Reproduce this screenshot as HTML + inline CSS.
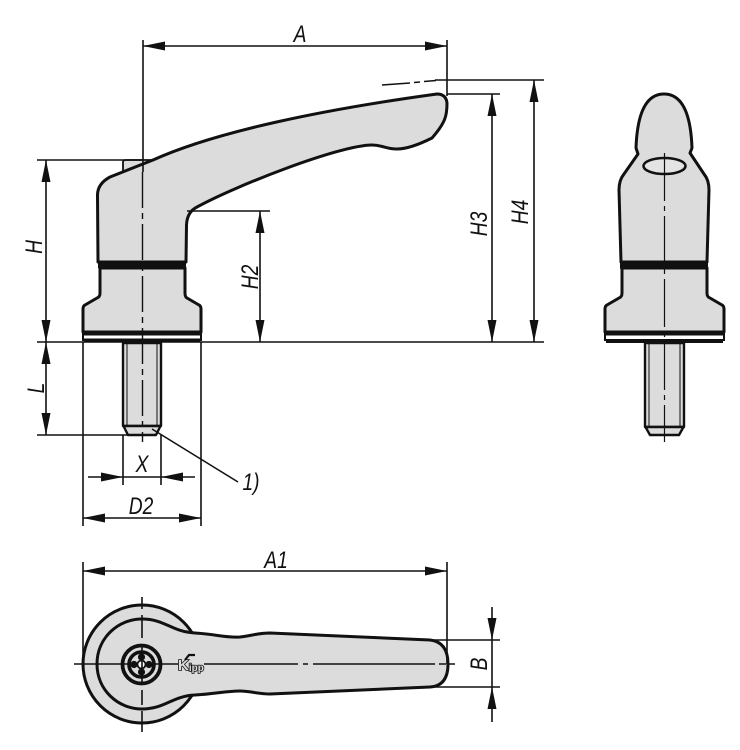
<!DOCTYPE html>
<html><head><meta charset="utf-8"><style>
html,body{margin:0;padding:0;background:#fff}
svg{display:block}
text{font-family:"Liberation Sans",sans-serif;font-style:italic;font-size:24px;fill:#111;text-anchor:middle}
.o{fill:#dcdcdc;stroke:#111;stroke-width:3;stroke-linejoin:round}
.t{fill:none;stroke:#111;stroke-width:1.6}
.b{fill:none;stroke:#111;stroke-width:4.5}
.a{fill:#111;stroke:none}
</style></head><body>
<svg width="740" height="750" viewBox="0 0 740 750" xmlns="http://www.w3.org/2000/svg">
<defs>
<path id="ar" class="a" d="M0 0L-4.5 22L4.5 22Z"/>
</defs>

<!-- SIDE VIEW -->
<path class="o" style="stroke-width:1.800" d="M123 172V162Q123 160 126 160H152V172Z"/>
<path class="o" d="M98 262L97.500 196Q97 184 110 177L153 160C215 132 320 110 437 94Q446 94 447 103C447 115 446 122 432 138C420 144 408 149 397 149C385 149 383 145 372 145C340 145 235 186 197 207Q187 212 186.500 225L186 262Z"/>
<path class="o" d="M100 268V293Q100 297 97 298L85 305Q83 306 83 309V332H201V309Q201 306 199 305L187 298Q185 297 185 293V268Z"/>
<path class="b" d="M98 265.500H186" style="stroke-width:5.500"/>
<path class="b" d="M83 333H201" style="stroke-width:5"/>
<path class="b" d="M84 340.500H200" style="stroke-width:4"/>
<path class="t" d="M83 333V341M201 333V341" style="stroke-width:2"/>
<path class="o" style="stroke-width:2.400" d="M123 343V426H161V343Z"/>
<path class="t" d="M127 343V426M157 343V426" style="stroke-width:1"/>
<path class="o" style="stroke-width:2.400" d="M123.500 426L128 435H156L160.500 426Z"/>

<!-- FRONT VIEW -->
<path class="o" d="M621 262L619 190Q619 180 624 174L638 154L636 148C637 120 643 94 664 94C685 94 691 120 692 148L690 153L704 174Q709 180 709 190L707 262Z"/>
<ellipse cx="664.500" cy="166" rx="21" ry="8" fill="#e4e4e4" stroke="#111" stroke-width="2.600"/>
<path class="o" d="M622 268V293Q622 297 619 298L607 305Q605 306 605 309V332H724V309Q724 306 722 305L710 298Q707 297 707 293V268Z"/>
<path class="b" d="M620 265.500H708" style="stroke-width:6.500"/>
<path class="b" d="M605 333H724" style="stroke-width:5"/>
<path class="b" d="M606 341H723" style="stroke-width:4"/>
<path class="t" d="M605 333V341M724 333V341" style="stroke-width:2"/>
<path class="o" style="stroke-width:2.400" d="M645 343V427H684V343Z"/>
<path class="t" d="M649 343V427M680 343V427" style="stroke-width:1"/>
<path class="o" style="stroke-width:2.400" d="M645.500 427L650 435H679L683.500 427Z"/>
<path class="t" d="M664.500 153V442" style="stroke-width:1.200;stroke-dasharray:48 5 5 5"/>

<!-- TOP VIEW -->
<circle class="o" cx="142" cy="664" r="59"/>
<path class="o" d="M97 664C97 638 118 619 142 619C165 619 172 632 195 633C215 634 225 638 240 637C250 636 258 633 270 633L430 640Q448 642 448 664Q448 686 430 687L270 694C258 694 250 691 240 691C225 691 215 694 195 695C172 696 165 709 142 709C118 709 97 690 97 664Z"/>
<circle cx="141.500" cy="664.500" r="19" fill="#dcdcdc" stroke="#111" stroke-width="3.800"/>
<circle cx="141.500" cy="664.500" r="12.500" fill="#dcdcdc" stroke="#111" stroke-width="3.600"/>
<circle cx="134" cy="664.500" r="3.600" fill="#111"/><circle cx="149" cy="664.500" r="3.600" fill="#111"/>
<circle cx="141.500" cy="657" r="3.600" fill="#111"/><circle cx="141.500" cy="672" r="3.600" fill="#111"/>
<circle cx="141.500" cy="664.500" r="4" fill="#fff" stroke="#111" stroke-width="1.800"/>
<path class="t" d="M74 664H129M155 664H178M204 664H298M303 664H308M313 664H435M439 664H446M448 664H455" style="stroke-width:1.500"/>
<text style="font-size:15px;font-style:normal;font-weight:bold;text-anchor:start;stroke:#111;stroke-width:1.600;fill:#ddd;paint-order:stroke" transform="translate(178 670)">K<tspan style="font-size:10px" dy="1">ipp</tspan></text>
<path d="M185 660L189 655H195" fill="none" stroke="#111" stroke-width="2.200"/>
<path class="t" d="M142 597V609M142 615V638M142 645V683M142 690V705M142 711V732" style="stroke-width:1.600"/>

<!-- CENTER LINE SIDE -->
<path class="t" d="M143 40V172"/>
<path class="t" d="M142.500 172V442" style="stroke-width:1.400;stroke-dasharray:36 5 6 5"/>

<!-- DIMENSION LINES -->
<path class="t" d="M143 46H447M447 40V96M382 85L410 83M414 82.500L420 82M424 81.500L436 80.500M435 80H544M447 94H500M534 80V342M492 94V342
M37 160H143M46 160V342M37 342H544M37 435H128M46 342V435
M187 211H270M260 211V342
M83 342V526M201 342V526M123 435V485M161 435V485M88 477H195M83 518H201
M152 429L238 482
M83 562V664M447 562V664M83 571H447M430 640H500M430 687H500M492 607V722" />

<!-- ARROWS -->
<use href="#ar" transform="translate(143 46) rotate(-90)"/>
<use href="#ar" transform="translate(447 46) rotate(90)"/>
<use href="#ar" transform="translate(492 94)"/>
<use href="#ar" transform="translate(492 342) rotate(180)"/>
<use href="#ar" transform="translate(534 80)"/>
<use href="#ar" transform="translate(534 342) rotate(180)"/>
<use href="#ar" transform="translate(46 160)"/>
<use href="#ar" transform="translate(46 342) rotate(180)"/>
<use href="#ar" transform="translate(46 342)"/>
<use href="#ar" transform="translate(46 435) rotate(180)"/>
<use href="#ar" transform="translate(260 211)"/>
<use href="#ar" transform="translate(260 342) rotate(180)"/>
<use href="#ar" transform="translate(123 477) rotate(90)"/>
<use href="#ar" transform="translate(161 477) rotate(-90)"/>
<use href="#ar" transform="translate(83 518) rotate(-90)"/>
<use href="#ar" transform="translate(201 518) rotate(90)"/>
<use href="#ar" transform="translate(83 571) rotate(-90)"/>
<use href="#ar" transform="translate(447 571) rotate(90)"/>
<use href="#ar" transform="translate(492 640) rotate(180)"/>
<use href="#ar" transform="translate(492 687)"/>

<!-- LABELS -->
<text transform="translate(300 42) scale(.8 1)">A</text>
<text transform="translate(42 247) rotate(-90) scale(.8 1)">H</text>
<text transform="translate(258 277) rotate(-90) scale(.8 1)">H2</text>
<text transform="translate(487 224) rotate(-90) scale(.8 1)">H3</text>
<text transform="translate(528 212) rotate(-90) scale(.8 1)">H4</text>
<text transform="translate(44 388) rotate(-90) scale(.8 1)">L</text>
<text transform="translate(142 472) scale(.8 1)">X</text>
<text transform="translate(141 514) scale(.8 1)">D2</text>
<text transform="translate(276 568) scale(.8 1)">A1</text>
<text transform="translate(251 490) scale(.8 1)">1)</text>
<text transform="translate(487 664) rotate(-90) scale(.8 1)">B</text>
</svg>
</body></html>
